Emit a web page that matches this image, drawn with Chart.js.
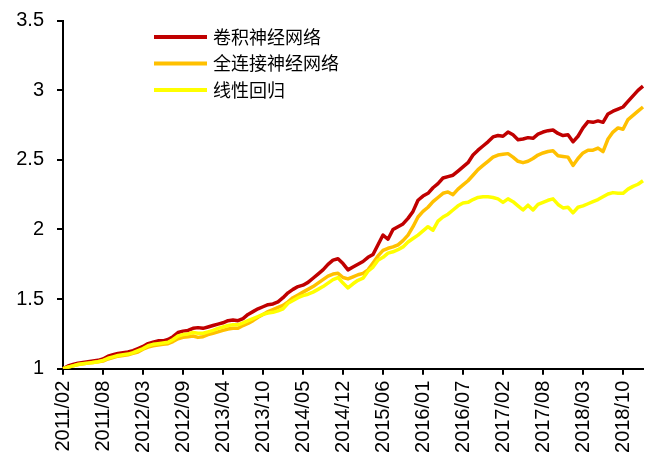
<!DOCTYPE html>
<html>
<head>
<meta charset="utf-8">
<title>神经网络 vs 线性回归 净值</title>
<script src="https://cdn.jsdelivr.net/npm/chart.js@4"></script>
<style>
  body { margin: 0; background: #fff; }
  canvas { display: block; }
</style>
</head>
<body>
<canvas id="nav-chart" width="651" height="461"></canvas>
<script>
// x-axis tick labels, one every 8 samples
const tickLabels = ['2011/02', '2011/08', '2012/03', '2012/09', '2013/04', '2013/10', '2014/05', '2014/12',
    '2015/06', '2016/01', '2016/07', '2017/02', '2017/08', '2018/03', '2018/10'];
const samplesPerTick = 8;

const seriesNames = ['卷积神经网络', '全连接神经网络', '线性回归'];

const cnnValues = [
    1.00, 1.02, 1.03, 1.04, 1.045, 1.05, 1.055, 1.06, 1.07, 1.09,
    1.10, 1.11, 1.115, 1.12, 1.13, 1.145, 1.16, 1.18, 1.19, 1.20,
    1.20, 1.21, 1.23, 1.26, 1.27, 1.275, 1.29, 1.295, 1.29, 1.30,
    1.31, 1.32, 1.33, 1.345, 1.35, 1.345, 1.36, 1.39, 1.41, 1.43,
    1.445, 1.46, 1.465, 1.48, 1.51, 1.545, 1.57, 1.59, 1.60, 1.62,
    1.65, 1.68, 1.71, 1.75, 1.78, 1.79, 1.755, 1.71, 1.73, 1.75,
    1.77, 1.80, 1.82, 1.89, 1.96, 1.93, 2.00, 2.02, 2.04, 2.08,
    2.13, 2.21, 2.24, 2.26, 2.30, 2.33, 2.37, 2.38, 2.39, 2.42,
    2.45, 2.48, 2.535, 2.57, 2.60, 2.63, 2.665, 2.675, 2.67, 2.70,
    2.68, 2.645, 2.65, 2.66, 2.655, 2.685, 2.70, 2.71, 2.715, 2.69,
    2.675, 2.68, 2.63, 2.67, 2.73, 2.775, 2.77, 2.78, 2.77, 2.83,
    2.85, 2.865, 2.88, 2.92, 2.96, 3.00, 3.03
];

const fcnValues = [
    1.00, 1.01, 1.02, 1.03, 1.035, 1.04, 1.045, 1.05, 1.055, 1.07,
    1.08, 1.09, 1.095, 1.10, 1.11, 1.12, 1.14, 1.155, 1.165, 1.17,
    1.175, 1.18, 1.195, 1.215, 1.225, 1.23, 1.235, 1.225, 1.23, 1.245,
    1.255, 1.265, 1.275, 1.285, 1.29, 1.29, 1.31, 1.325, 1.345, 1.37,
    1.39, 1.41, 1.425, 1.44, 1.455, 1.48, 1.51, 1.53, 1.55, 1.57,
    1.59, 1.615, 1.64, 1.665, 1.68, 1.685, 1.655, 1.645, 1.66, 1.675,
    1.685, 1.71, 1.76, 1.81, 1.85, 1.865, 1.875, 1.89, 1.92, 1.96,
    2.02, 2.09, 2.13, 2.16, 2.20, 2.23, 2.26, 2.27, 2.25, 2.29,
    2.32, 2.35, 2.39, 2.43, 2.46, 2.49, 2.52, 2.535, 2.54, 2.545,
    2.52, 2.49, 2.48, 2.49, 2.51, 2.535, 2.55, 2.56, 2.565, 2.53,
    2.525, 2.52, 2.46, 2.51, 2.55, 2.57, 2.57, 2.585, 2.56, 2.65,
    2.70, 2.73, 2.72, 2.79, 2.82, 2.85, 2.88
];

const linearValues = [
    1.00, 1.01, 1.02, 1.03, 1.035, 1.04, 1.045, 1.05, 1.06, 1.075,
    1.085, 1.095, 1.10, 1.105, 1.115, 1.13, 1.145, 1.165, 1.175, 1.18,
    1.185, 1.19, 1.21, 1.235, 1.245, 1.25, 1.26, 1.255, 1.255, 1.265,
    1.275, 1.29, 1.30, 1.31, 1.315, 1.315, 1.33, 1.345, 1.36, 1.375,
    1.39, 1.40, 1.405, 1.415, 1.43, 1.47, 1.49, 1.51, 1.525, 1.535,
    1.55, 1.57, 1.59, 1.615, 1.64, 1.655, 1.615, 1.58, 1.61, 1.635,
    1.65, 1.70, 1.73, 1.78, 1.80, 1.83, 1.84, 1.855, 1.875, 1.91,
    1.935, 1.96, 1.99, 2.02, 1.995, 2.06, 2.09, 2.11, 2.14, 2.17,
    2.19, 2.195, 2.215, 2.23, 2.235, 2.235, 2.23, 2.22, 2.195, 2.22,
    2.20, 2.17, 2.14, 2.175, 2.14, 2.18, 2.195, 2.21, 2.22, 2.18,
    2.155, 2.16, 2.12, 2.16, 2.17, 2.185, 2.20, 2.215, 2.235, 2.255,
    2.265, 2.26, 2.26, 2.29, 2.31, 2.325, 2.35
];

const yTicks = [1, 1.5, 2, 2.5, 3, 3.5];

// one label per sample, only every 8th one is shown
const labels = cnnValues.map((_, i) => i % samplesPerTick === 0 ? tickLabels[i / samplesPerTick] : '');

// legend drawn inside the plot, top left
const insideLegend = {
    id: 'insideLegend',
    afterDraw(chart) {
        const c = chart.ctx;
        c.save();
        c.font = '18px "Noto Sans CJK SC"';
        c.textBaseline = 'middle';
        chart.data.datasets.forEach((ds, i) => {
            const y = 37 + i * 26.5;
            c.strokeStyle = ds.borderColor;
            c.lineWidth = 4;
            c.beginPath();
            c.moveTo(154, y);
            c.lineTo(207, y);
            c.stroke();
            c.fillStyle = '#000';
            c.fillText(ds.label, 213, y);
        });
        c.restore();
    }
};

const ctx = document.getElementById('nav-chart').getContext('2d');
new Chart(ctx, {
    type: 'line',
    data: {
        labels: labels,
        datasets: [
            { label: seriesNames[0], data: cnnValues, borderColor: '#C00000', order: 2 },
            { label: seriesNames[1], data: fcnValues, borderColor: '#FFC000', order: 1 },
            { label: seriesNames[2], data: linearValues, borderColor: '#FFFF00', order: 0 }
        ]
    },
    options: {
        responsive: false,
        animation: false,
        layout: { padding: { top: 20.7, right: 8, left: 0, bottom: 0 } },
        elements: {
            line: { borderWidth: 3.5, tension: 0, borderJoinStyle: 'round' },
            point: { radius: 0 }
        },
        plugins: {
            legend: { display: false },
            tooltip: { enabled: false }
        },
        scales: {
            x: {
                offset: false,
                border: { color: '#000', width: 2 },
                grid: { drawOnChartArea: false, color: '#000', lineWidth: 2, tickLength: 6 },
                ticks: {
                    autoSkip: false,
                    maxRotation: 90,
                    minRotation: 90,
                    padding: 6,
                    color: '#000',
                    font: { family: '"Liberation Sans", Arial, sans-serif', size: 20 },
                    callback: (v, i) => labels[i] === '' ? null : labels[i]
                },
                afterFit: (scale) => {
                    scale.height = 92.3;
                    scale.paddingLeft = 0;
                    scale.paddingRight = 0;
                }
            },
            y: {
                min: 1,
                max: 3.5,
                border: { color: '#000', width: 2 },
                grid: { drawOnChartArea: false, color: '#000', lineWidth: 2, tickLength: 6 },
                afterBuildTicks: (scale) => {
                    scale.ticks = yTicks.map(v => ({ value: v }));
                },
                ticks: {
                    padding: 13,
                    color: '#000',
                    font: { family: '"Liberation Sans", Arial, sans-serif', size: 20 },
                    callback: (v) => String(v)
                },
                afterFit: (scale) => {
                    scale.width = 63;
                    scale.paddingTop = 0;
                    scale.paddingBottom = 0;
                }
            }
        }
    },
    plugins: [insideLegend]
});
</script>
</body>
</html>
